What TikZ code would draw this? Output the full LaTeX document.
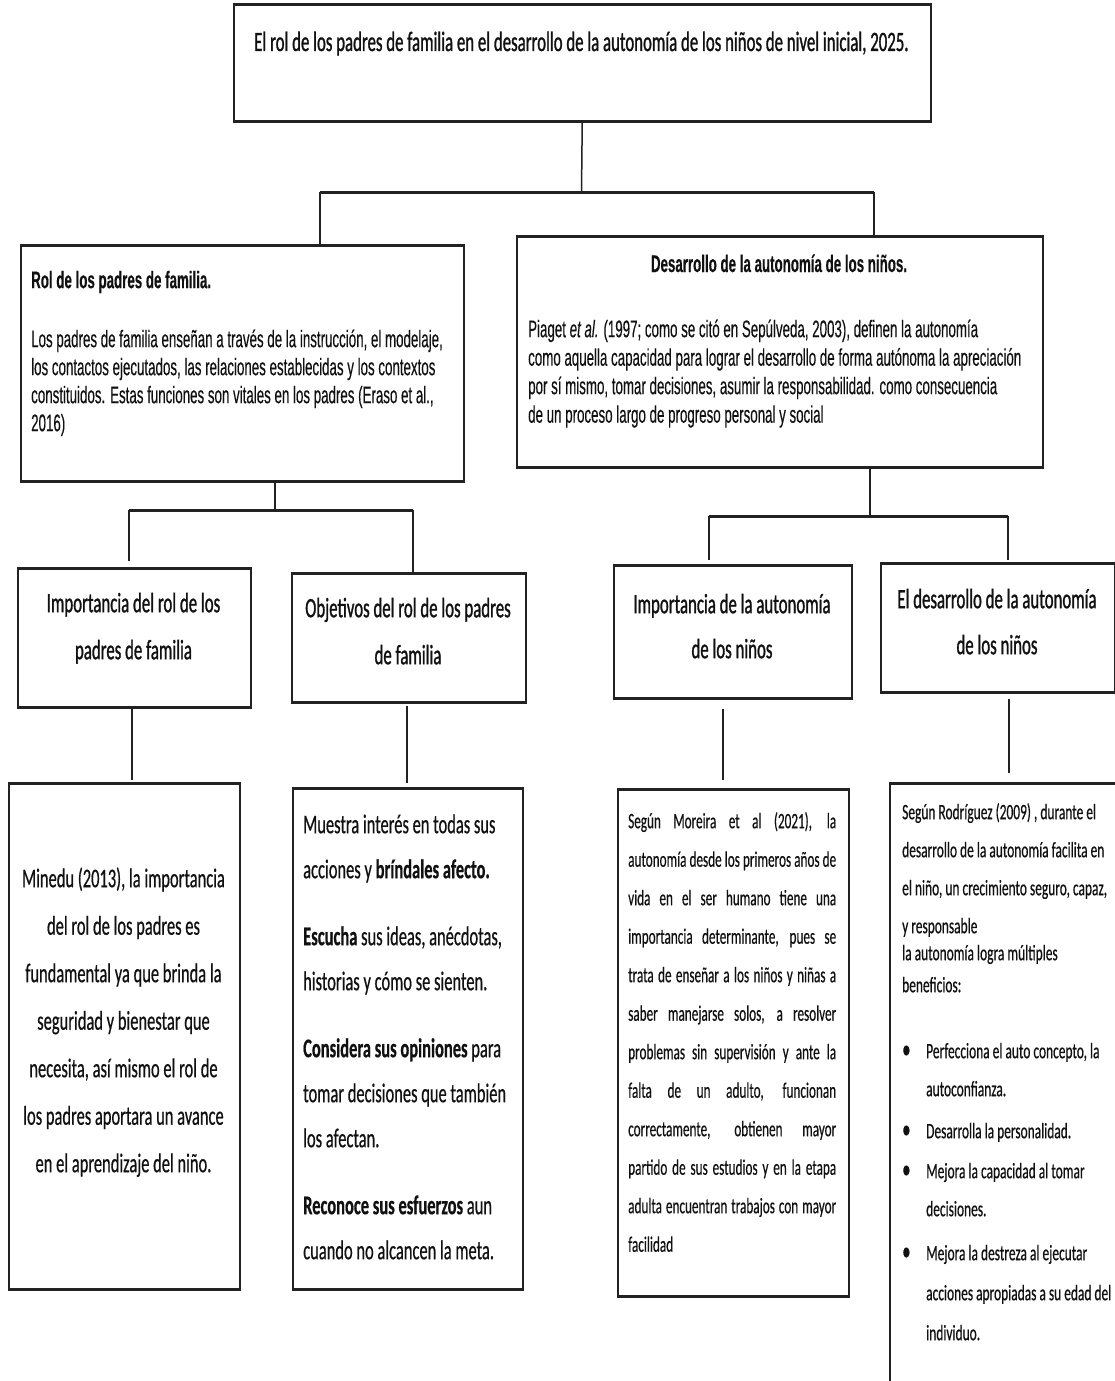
\documentclass[tikz,border=0pt]{standalone}
\usepackage{fontspec}
\newfontfamily\fhead[FakeStretch=0.60,FakeBold=1.0]{Carlito}
\newfontfamily\fcalA[FakeStretch=0.61,FakeBold=0.5]{Carlito}
\newfontfamily\fcalB[FakeStretch=0.60,FakeBold=0.4]{Carlito}
\newfontfamily\fari[FakeStretch=0.555,FakeBold=0.3]{Liberation Sans}
\definecolor{lc}{HTML}{222222}
\definecolor{tc}{HTML}{111111}
\begin{document}
\begin{tikzpicture}[x=1pt,y=-1pt,
  box/.style={draw=lc, line width=1.5pt, inner sep=0pt, anchor=north west, fill=none},
  hl/.style={draw=lc, line width=3pt},
  vl/.style={draw=lc, line width=1.5pt},
  txt/.style={inner sep=0pt, text=tc}]
\useasboundingbox (0,0) rectangle (1115,1381);
\fill[white] (0,0) rectangle (1115,1381);
\clip (0,0) rectangle (1115,1381);

% ---------- boxes ----------
\node[box, minimum width=697pt, minimum height=115pt] (top) at (233,5) {};
\node[box, minimum width=443pt, minimum height=235pt] (rol) at (20,245) {};
\node[box, minimum width=526pt, minimum height=230pt] (des) at (516,236) {};
\node[box, minimum width=233pt, minimum height=138pt] (imp) at (17,568) {};
\node[box, minimum width=234pt, minimum height=128pt] (obj) at (291,573) {};
\node[box, minimum width=238pt, minimum height=132pt] (ima) at (613,565) {};
\node[box, minimum width=234pt, minimum height=128pt] (eld) at (880,563) {};
\node[box, minimum width=231pt, minimum height=505pt] (min) at (8,783) {};
\node[box, minimum width=230pt, minimum height=500pt] (lis) at (292,788) {};
\node[box, minimum width=231pt, minimum height=506pt] (mor) at (617,789) {};
\node[box, minimum width=240pt, minimum height=620pt] (rod) at (889,783) {};
\foreach \b in {top,rol,des,imp,obj,ima,eld,min,lis,mor,rod}{
  \draw[hl] (\b.north west) -- (\b.north east);
  \draw[hl] (\b.south west) -- (\b.south east);
}

% ---------- connectors ----------
\coordinate (j0) at (581.5,192);
\coordinate (jA) at (320,192);
\coordinate (jB) at (874,192);
\draw[vl] (top.south) -- (j0);
\draw[hl] (jA) -- (jB);
\draw[vl] (jA) -- (jA |- rol.north);
\draw[vl] (jB) -- (jB |- des.north);

\coordinate (k0) at (275,510);
\coordinate (kA) at (129,510);
\coordinate (kB) at (413,510);
\draw[vl] (k0 |- rol.south) -- (k0);
\draw[hl] (kA) -- (kB);
\draw[vl, shorten >=7pt] (kA) -- (kA |- imp.north);
\draw[vl] (kB) -- (kB |- obj.north);

\coordinate (m0) at (870,516);
\coordinate (mC) at (709,516);
\coordinate (mD) at (1008,516);
\draw[vl] (m0 |- des.south) -- (m0);
\draw[hl] (mC) -- (mD);
\draw[vl, shorten >=5pt] (mC) -- (mC |- ima.north);
\draw[vl, shorten >=3pt] (mD) -- (mD |- eld.north);

\coordinate (nA) at (132,0);
\coordinate (nB) at (407,0);
\coordinate (nC) at (723,0);
\coordinate (nD) at (1009,0);
\draw[vl, shorten >=3pt] (imp.south -| nA) -- (min.north -| nA);
\draw[vl, shorten <=3pt, shorten >=5pt] (obj.south -| nB) -- (lis.north -| nB);
\draw[vl, shorten <=10pt, shorten >=9pt] (ima.south -| nC) -- (mor.north -| nC);
\draw[vl, shorten <=6pt, shorten >=10pt] (eld.south -| nD) -- (rod.north -| nD);

% ---------- texts ----------
\node[txt, font=\fhead\fontsize{28}{32}\selectfont, anchor=base] (tTop) at (581.5,51)
  {El rol de los padres de familia en el desarrollo de la autonomía de los niños de nivel inicial, 2025.};

\node[txt, font=\fari\fontsize{24}{28}\selectfont, align=left, anchor=north west] (tRol) at (31,264)
  {\rule{0pt}{24pt}\textbf{Rol de los padres de familia.}\\[31pt]
   Los padres de familia enseñan a través de la instrucción, el modelaje,\\
   los contactos ejecutados, las relaciones establecidas y los contextos\\
   constituidos. Estas funciones son vitales en los padres (Eraso et al.,\\
   2016)};

\node[txt, font=\fari\fontsize{24}{28}\selectfont, anchor=base] (tDesH) at (779,272)
  {\textbf{Desarrollo de la autonomía de los niños.}};
\node[txt, font=\fari\fontsize{24}{28.5}\selectfont, align=left, anchor=north west] (tDes) at (528,313)
  {\rule{0pt}{24pt}Piaget \textit{et al.} (1997; como se citó en Sepúlveda, 2003), definen la autonomía\\
   como aquella capacidad para lograr el desarrollo de forma autónoma la apreciación\\
   por sí mismo, tomar decisiones, asumir la responsabilidad. como consecuencia\\
   de un proceso largo de progreso personal y social};

\node[txt, font=\fhead\fontsize{28}{47}\selectfont, align=center, anchor=north] (tImp) at (133.5,584)
  {\rule{0pt}{28pt}Importancia del rol de los\\ padres de familia};
\node[txt, font=\fhead\fontsize{28}{47}\selectfont, align=center, anchor=north] (tObj) at (408,589)
  {\rule{0pt}{28pt}Objetivos del rol de los padres\\ de familia};
\node[txt, font=\fhead\fontsize{28}{45}\selectfont, align=center, anchor=north] (tIma) at (732,585)
  {\rule{0pt}{28pt}Importancia de la autonomía\\ de los niños};
\node[txt, font=\fhead\fontsize{28}{46}\selectfont, align=center, anchor=north] (tEld) at (997,580)
  {\rule{0pt}{28pt}El desarrollo de la autonomía\\ de los niños};

\node[txt, font=\fcalA\fontsize{27}{47.5}\selectfont, align=center, anchor=north] (tMin) at (123.5,860)
  {\rule{0pt}{27pt}Minedu (2013), la importancia\\
   del rol de los padres es\\
   fundamental ya que brinda la\\
   seguridad y bienestar que\\
   necesita, así mismo el rol de\\
   los padres aportara un avance\\
   en el aprendizaje del niño.};

\node[txt, font=\fcalA\fontsize{27}{45}\selectfont, align=left, anchor=north west] (tLis) at (303,806)
  {\rule{0pt}{27pt}Muestra interés en todas sus\\
   acciones y \textbf{bríndales afecto.}\\[22pt]
   \textbf{Escucha} sus ideas, anécdotas,\\
   historias y cómo se sienten.\\[22pt]
   \textbf{Considera sus opiniones} para\\
   tomar decisiones que también\\
   los afectan.\\[22pt]
   \textbf{Reconoce sus esfuerzos} aun\\
   cuando no alcancen la meta.};

\node[txt, font=\fcalB\fontsize{22}{38.5}\selectfont, align=left, anchor=north west] (tMor) at (628,806)
  {\rule{0pt}{22pt}\makebox[208pt][s]{Según Moreira et al (2021), la}\\
   \makebox[208pt][s]{autonomía desde los primeros años de}\\
   \makebox[208pt][s]{vida en el ser humano tiene una}\\
   \makebox[208pt][s]{importancia determinante, pues se}\\
   \makebox[208pt][s]{trata de enseñar a los niños y niñas a}\\
   \makebox[208pt][s]{saber manejarse solos, a resolver}\\
   \makebox[208pt][s]{problemas sin supervisión y ante la}\\
   \makebox[208pt][s]{falta de un adulto, funcionan}\\
   \makebox[208pt][s]{correctamente, obtienen mayor}\\
   \makebox[208pt][s]{partido de sus estudios y en la etapa}\\
   \makebox[208pt][s]{adulta encuentran trabajos con mayor}\\
   facilidad};

\node[txt, font=\fcalA\fontsize{22}{38}\selectfont, align=left, anchor=north west] (tRod) at (902,797)
  {\rule{0pt}{22pt}Según Rodríguez (2009) , durante el\\
   desarrollo de la autonomía facilita en\\
   el niño, un crecimiento seguro, capaz,\\
   y responsable\\[-11pt]
   la autonomía logra múltiples\\[-6pt]
   beneficios:\\[28pt]
   \makebox[24pt][l]{\scalebox{1.25}{\textbullet}}Perfecciona el auto concepto, la\\
   \hspace*{24pt}autoconfianza.\\[4pt]
   \makebox[24pt][l]{\scalebox{1.25}{\textbullet}}Desarrolla la personalidad.\\[2pt]
   \makebox[24pt][l]{\scalebox{1.25}{\textbullet}}Mejora la capacidad al tomar\\
   \hspace*{24pt}decisiones.\\[6pt]
   \makebox[24pt][l]{\scalebox{1.25}{\textbullet}}Mejora la destreza al ejecutar\\[2pt]
   \hspace*{24pt}acciones apropiadas a su edad del\\[2pt]
   \hspace*{24pt}individuo.};
\end{tikzpicture}
\end{document}
